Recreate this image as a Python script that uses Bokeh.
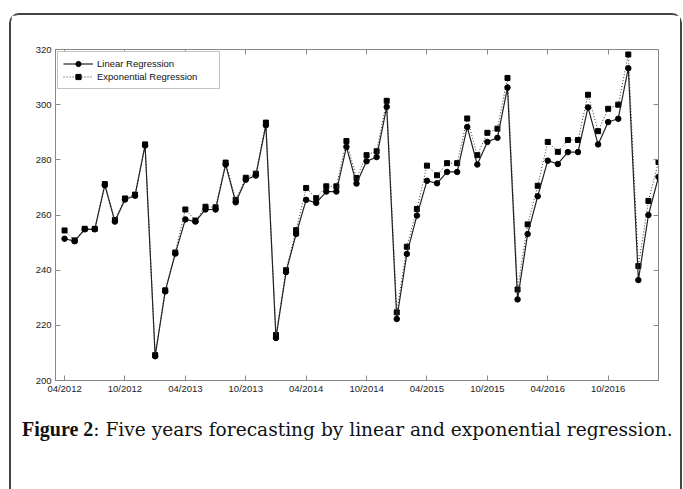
from bokeh.plotting import figure
from bokeh.models import (Range1d, LinearAxis, FixedTicker, Legend, LegendItem, Div)
from bokeh.layouts import column
from bokeh.embed import file_html
from bokeh.resources import INLINE

# ---- data ----
months = list(range(60))  # 0 = 04/2012 ... 59 = 03/2017
tick_months = [0, 6, 12, 18, 24, 30, 36, 42, 48, 54]
tick_labels = ["04/2012", "10/2012", "04/2013", "10/2013", "04/2014",
               "10/2014", "04/2015", "10/2015", "04/2016", "10/2016"]
y_ticks = [200, 220, 240, 260, 280, 300, 320]

linear = [251.4, 250.5, 254.8, 254.8, 270.8, 257.6, 265.6, 267.0, 285.2, 208.8, 232.3, 246.0,
          258.4, 257.6, 262.0, 262.0, 278.3, 264.6, 272.8, 274.3, 292.5, 215.4, 239.3, 253.1,
          265.5, 264.4, 268.5, 268.5, 284.7, 271.4, 279.5, 281.0, 299.2, 222.3, 245.9, 259.8,
          272.4, 271.5, 275.6, 275.6, 291.9, 278.3, 286.5, 288.0, 306.2, 229.4, 253.1, 266.8,
          279.7, 278.5, 282.8, 282.8, 299.0, 285.6, 293.7, 294.9, 313.2, 236.4, 260.0, 273.8]
expo = [254.4, 250.8, 255.0, 255.0, 271.2, 258.2, 266.0, 267.4, 285.6, 209.2, 232.7, 246.4,
        262.0, 258.0, 263.0, 262.8, 279.0, 265.5, 273.5, 275.0, 293.5, 216.5, 240.0, 254.5,
        269.8, 266.1, 270.4, 270.4, 286.8, 273.4, 281.7, 283.1, 301.4, 224.7, 248.5, 262.2,
        277.9, 274.4, 278.8, 278.8, 295.0, 281.7, 289.8, 291.3, 309.7, 233.0, 256.6, 270.6,
        286.5, 282.9, 287.2, 287.2, 303.6, 290.4, 298.5, 300.0, 318.2, 241.5, 265.1, 279.2]

series_names = ["Linear Regression", "Exponential Regression"]
caption_bold = "Figure 2"
caption_rest = ": Five years forecasting by linear and exponential regression."

W, H = 669, 390
p = figure(width=W, height=H, output_backend="svg", toolbar_location=None,
           x_range=Range1d(-0.9, 59), y_range=Range1d(200, 320),
           min_border_left=44, min_border_right=22, min_border_top=34,
           min_border_bottom=25, x_axis_location=None, y_axis_location=None)
p.grid.visible = False
p.outline_line_color = "#888888"
p.outline_line_width = 1
p.background_fill_color = "white"
p.border_fill_color = "white"

axis_color = "#888888"
label_font = "Liberation Sans"

def style_axis(ax):
    ax.axis_line_color = axis_color
    ax.major_tick_line_color = axis_color
    ax.major_tick_in = 5
    ax.major_tick_out = 0
    ax.minor_tick_line_color = None
    ax.major_label_text_font = label_font
    ax.major_label_text_color = "#222222"
    ax.major_label_text_font_size = "9.5px"
    ax.major_label_standoff = 4

xb = LinearAxis(ticker=FixedTicker(ticks=tick_months),
                major_label_overrides={m: l for m, l in zip(tick_months, tick_labels)})
style_axis(xb)
xb.major_label_standoff = 2
p.add_layout(xb, "below")
xt = LinearAxis(ticker=FixedTicker(ticks=tick_months),
                major_label_overrides={m: "" for m in tick_months})
style_axis(xt)
p.add_layout(xt, "above")
yl = LinearAxis(ticker=FixedTicker(ticks=y_ticks))
style_axis(yl)
p.add_layout(yl, "left")
yr = LinearAxis(ticker=FixedTicker(ticks=y_ticks),
                major_label_overrides={t: "" for t in y_ticks})
style_axis(yr)
p.add_layout(yr, "right")

# series
l_exp = p.line(months, expo, line_color="#333333", line_width=1, line_dash="1 2")
s_exp = p.scatter(months, expo, marker="square", size=5, fill_color="black", line_color="black")
l_lin = p.line(months, linear, line_color="#222222", line_width=1.2)
s_lin = p.scatter(months, linear, marker="circle", size=5.5, fill_color="black", line_color="black")

legend = Legend(items=[LegendItem(label=series_names[0], renderers=[l_lin, s_lin]),
                       LegendItem(label=series_names[1], renderers=[l_exp, s_exp])],
                location="top_left")
legend.margin = 2
legend.padding = 5
legend.spacing = 0
legend.glyph_width = 30
legend.glyph_height = 13
legend.label_height = 13
legend.label_width = 117
legend.label_standoff = 4
legend.label_text_font = label_font
legend.label_text_font_size = "9.5px"
legend.label_text_color = "#111111"
legend.border_line_color = "#888888"
legend.border_line_width = 1
legend.background_fill_color = "white"
legend.background_fill_alpha = 1
p.add_layout(legend)

caption_html = ('<span style="font-family:\'Liberation Serif\';font-weight:bold;font-size:20px">%s</span>'
                '<span style="font-family:\'DejaVu Serif\';font-size:18.6px">%s</span>'
                % (caption_bold, caption_rest))
caption = Div(text=caption_html, width=W - 6, height=84,
              styles={"color": "#111111", "padding-left": "6px", "padding-top": "7px",
                      "line-height": "24px", "white-space": "nowrap"})

layout = column(p, caption, spacing=0, width=W + 4, height=476, sizing_mode="fixed",
                styles={"margin-left": "9px", "margin-top": "13px",
                        "border-left": "2px solid #444444", "border-top": "2px solid #444444",
                        "border-right": "2px solid #444444",
                        "border-top-left-radius": "10px", "border-top-right-radius": "10px"})

open("out.html", "w").write(file_html(layout, INLINE))
